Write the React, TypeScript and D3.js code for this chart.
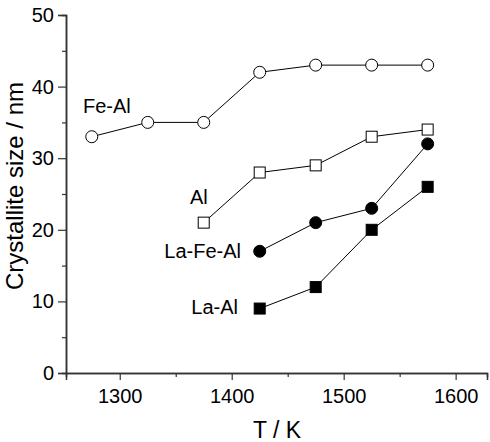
import React, { useEffect, useRef } from "react";
import { axisBottom, axisLeft, line, scaleLinear, select, range } from "d3";

const feAlTemps = [1275, 1325, 1375, 1425, 1475, 1525, 1575];
const feAlSizes = [33, 35, 35, 42, 43, 43, 43];
const alTemps = [1375, 1425, 1475, 1525, 1575];
const alSizes = [21, 28, 29, 33, 34];
const laFeAlTemps = [1425, 1475, 1525, 1575];
const laFeAlSizes = [17, 21, 23, 32];
const laAlTemps = [1425, 1475, 1525, 1575];
const laAlSizes = [9, 12, 20, 26];

const xTicks = [1300, 1400, 1500, 1600];
const yTicks = [0, 10, 20, 30, 40, 50];

const font = "Arial, 'Liberation Sans', sans-serif";
const axisColor = "#333";

const AxisBottom = ({ scale, transform }) => {
  const ref = useRef(null);
  useEffect(() => {
    const g = select(ref.current);
    g.selectAll("*").remove();
    // minor ticks
    g.append("g").call(
      axisBottom(scale).tickValues(range(1350, 1601, 100)).tickSize(4).tickFormat(() => "")
    );
    g.append("g").call(
      axisBottom(scale).tickValues(xTicks).tickSize(7).tickPadding(9).tickFormat((d) => String(d))
    );
    g.selectAll(".domain").attr("stroke", axisColor).attr("stroke-width", 1.5);
    g.selectAll("line").attr("stroke", axisColor).attr("stroke-width", 1.2);
    g.selectAll("text").attr("font-size", 20).attr("font-family", font).attr("fill", "#000");
  }, [scale]);
  return <g ref={ref} transform={transform} />;
};

const AxisLeft = ({ scale, transform }) => {
  const ref = useRef(null);
  useEffect(() => {
    const g = select(ref.current);
    g.selectAll("*").remove();
    g.append("g").call(
      axisLeft(scale).tickValues(range(5, 50, 10)).tickSize(4).tickFormat(() => "")
    );
    g.append("g").call(
      axisLeft(scale).tickValues(yTicks).tickSize(8).tickPadding(4).tickFormat((d) => String(d))
    );
    g.selectAll(".domain").attr("stroke", axisColor).attr("stroke-width", 1.5);
    g.selectAll("line").attr("stroke", axisColor).attr("stroke-width", 1.2);
    g.selectAll("text").attr("font-size", 20).attr("font-family", font).attr("fill", "#000");
  }, [scale]);
  return <g ref={ref} transform={transform} />;
};

const Series = ({ temps, sizes, x, y, marker, filled }) => {
  const pts = temps.map((t, i) => [x(t), y(sizes[i])]);
  const path = line()(pts);
  const fill = filled ? "#000" : "#fff";
  return (
    <g>
      <path d={path} fill="none" stroke="#000" strokeWidth={1} />
      {pts.map(([px, py], i) =>
        marker === "circle" ? (
          <circle key={i} cx={px} cy={py} r={6} fill={fill} stroke="#000" strokeWidth={1} />
        ) : (
          <rect key={i} x={px - 5.5} y={py - 5.5} width={11} height={11} fill={fill} stroke="#000" strokeWidth={1} />
        )
      )}
    </g>
  );
};

export default function App() {
  const x = scaleLinear().domain([1252, 1628]).range([66, 487]);
  const y = scaleLinear().domain([0, 50]).range([373, 15]);

  return (
    <svg width={490} height={442} style={{ position: "absolute", left: 0, top: 0, background: "#fff" }}>
      <AxisLeft scale={y} transform={`translate(${x(1252)},0)`} />
      <AxisBottom scale={x} transform={`translate(0,${y(0)})`} />

      <Series temps={feAlTemps} sizes={feAlSizes} x={x} y={y} marker="circle" filled={false} />
      <Series temps={alTemps} sizes={alSizes} x={x} y={y} marker="square" filled={false} />
      <Series temps={laFeAlTemps} sizes={laFeAlSizes} x={x} y={y} marker="circle" filled={true} />
      <Series temps={laAlTemps} sizes={laAlSizes} x={x} y={y} marker="square" filled={true} />

      <g fontFamily={font} fontSize={20} fill="#000">
        <text x={83} y={113}>Fe-Al</text>
        <text x={190} y={204}>Al</text>
        <text x={241} y={258} textAnchor="end">La-Fe-Al</text>
        <text x={238} y={314} textAnchor="end">La-Al</text>
        <text x={277} y={438} textAnchor="middle" fontSize={23}>T / K</text>
        <text transform={`translate(23,186) rotate(-90)`} textAnchor="middle" fontSize={24}>
          Crystallite size / nm
        </text>
      </g>
    </svg>
  );
}
